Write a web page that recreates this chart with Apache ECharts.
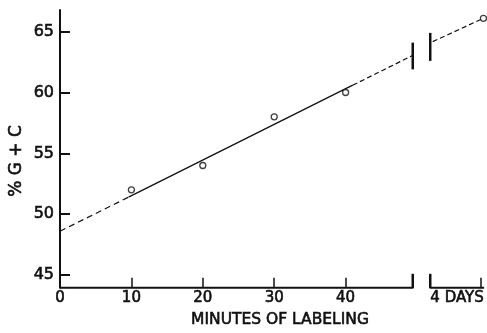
<!DOCTYPE html>
<html>
<head>
<meta charset="utf-8">
<script src="https://cdn.jsdelivr.net/npm/echarts@6/dist/echarts.min.js"></script>
<style>
  html, body { margin: 0; padding: 0; background: #fff; }
  #chart { width: 487px; height: 333px; }
</style>
</head>
<body>
<div id="chart"></div>
<script>
// Measured base composition during labeling
const minutes = [10, 20, 30, 40];
const gcPercent = [52, 54, 58, 60];

// The 4-day sample, placed past the axis break
const dayTickX = 58.9;
const dayX = 59.3;
const dayGc = 66.1;
const dayLabel = '4 DAYS';
const dayLabelX = 55.6;

// Fitted trend: dashed extrapolations around a solid fitted span
const fitDashLeft = [[0, 48.6], [9.6, 51.4]];
const fitSolid = [[9.6, 51.4], [41, 60.6]];
const fitDashRight = [[41, 60.6], [49.4, 63.05]];
const fitDashDays = [[52.2, 64.18], [dayX, dayGc]];

// Axis ranges and ticks
const xMin = 0, xMax = 59.4;
const yMin = 43.96, yMax = 66.78;
const xTickLabels = [0, 10, 20, 30, 40];
const xTicks = [10, 20, 30, 40, dayTickX];
const yTicks = [45, 50, 55, 60, 65];

// Axis break position (minutes side | days side)
const breakLeft = 49.4, breakRight = 51.85;
const breakLeftSpan = [61.9, 64.1];
const breakRightSpan = [62.6, 64.9];
const axisBreakTop = 45.1;

const ink = '#111';
const font = 'DejaVu Sans';
// slight outline gives the lettering its heavier pen stroke
const pen = { textBorderColor: ink, textBorderWidth: 0.6 };

const chart = echarts.init(document.getElementById('chart'), null, { renderer: 'canvas' });

function seg(data, opts) {
  return Object.assign({
    type: 'line', data: data, symbol: 'none', clip: false, silent: true,
    lineStyle: { color: ink, width: 1.3 }, z: 3
  }, opts || {});
}

chart.setOption({
  animation: false,
  backgroundColor: '#fff',
  grid: { left: 60, right: 0, top: 10, bottom: 45.3 },
  xAxis: {
    type: 'value', min: xMin, max: xMax,
    axisLine: { show: false },
    splitLine: { show: false },
    axisTick: { show: true, inside: true, length: 10, customValues: xTicks,
      lineStyle: { color: ink, width: 1.5 } },
    axisLabel: Object.assign({
      customValues: xTickLabels.concat([dayLabelX]),
      formatter: v => (v === dayLabelX ? dayLabel : String(v)),
      color: ink, fontFamily: font, fontSize: 15, margin: 3
    }, pen)
  },
  yAxis: {
    type: 'value', min: yMin, max: yMax,
    axisLine: { show: true, lineStyle: { color: ink, width: 2 } },
    splitLine: { show: false },
    axisTick: { show: true, inside: true, length: 10, customValues: yTicks,
      lineStyle: { color: ink, width: 2 } },
    axisLabel: Object.assign({ customValues: yTicks, color: ink, fontFamily: font, fontSize: 16, margin: 6 }, pen)
  },
  graphic: [
    { type: 'text', x: 17, y: 161, rotation: Math.PI / 2,
      style: { text: '% G + C', fill: ink, stroke: ink, lineWidth: 0.6, font: '17px "DejaVu Sans"', align: 'center', verticalAlign: 'middle' } },
    { type: 'text', x: 280, y: 320,
      style: { text: 'MINUTES OF LABELING', fill: ink, stroke: ink, lineWidth: 0.6, font: '15.5px "DejaVu Sans"', align: 'center', verticalAlign: 'middle' } }
  ],
  series: [
    // horizontal axis drawn in two pieces around the break
    seg([[xMin, yMin], [breakLeft, yMin]], { lineStyle: { color: ink, width: 2 } }),
    seg([[breakRight, yMin], [xMax, yMin]], { lineStyle: { color: ink, width: 2 } }),
    seg([[breakLeft, yMin - 0.05], [breakLeft, axisBreakTop]], { lineStyle: { color: ink, width: 2.5 } }),
    seg([[breakRight, yMin - 0.05], [breakRight, axisBreakTop]], { lineStyle: { color: ink, width: 2.5 } }),
    // break marks on the trend line
    seg([[breakLeft, breakLeftSpan[0]], [breakLeft, breakLeftSpan[1]]], { lineStyle: { color: ink, width: 2.5 } }),
    seg([[breakRight, breakRightSpan[0]], [breakRight, breakRightSpan[1]]], { lineStyle: { color: ink, width: 2.5 } }),
    // trend line
    seg(fitDashLeft, { lineStyle: { color: ink, width: 1.2, type: [6, 4] } }),
    seg(fitSolid, { lineStyle: { color: ink, width: 1.3 } }),
    seg(fitDashRight, { lineStyle: { color: ink, width: 1.2, type: [5, 3] } }),
    seg(fitDashDays, { lineStyle: { color: ink, width: 1.2, type: [5, 3] } }),
    // observations
    {
      type: 'scatter', data: minutes.map((m, i) => [m, gcPercent[i]]),
      symbol: 'circle', symbolSize: 6, clip: false, z: 5,
      itemStyle: { color: '#fff', borderColor: ink, borderWidth: 1.3 }
    },
    {
      type: 'scatter', data: [[dayX, dayGc]],
      symbol: 'circle', symbolSize: 6, clip: false, z: 5,
      itemStyle: { color: '#fff', borderColor: ink, borderWidth: 1.3 }
    }
  ]
});
</script>
</body>
</html>
